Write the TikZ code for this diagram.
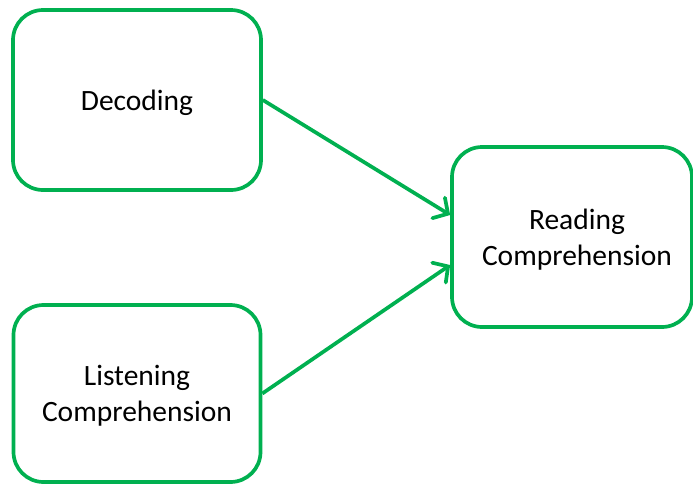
\documentclass[tikz,border=0pt]{standalone}
\usepackage{fontspec}
\setmainfont{Carlito}
\usetikzlibrary{arrows.meta}
\definecolor{boxgreen}{HTML}{00B050}
\begin{document}
\begin{tikzpicture}[x=1pt,y=-1pt,
  box/.style={draw=boxgreen, line width=3.7pt, rounded corners=30pt, inner sep=0pt},
  caption/.style={align=center, inner sep=0pt, font=\fontsize{29.5}{36}\selectfont},
  link/.style={draw=boxgreen, line width=3.7pt,
    -{Straight Barb[length=11pt,width=24pt,line cap=round]}}]
  \useasboundingbox (0,0) rectangle (693,485);
  % boxes
  \node[box, minimum width=248pt, minimum height=180pt] (dec) at (137,100) {};
  \node[box, minimum width=247pt, minimum height=177pt] (lis) at (137,393.5) {};
  \node[box, minimum width=240pt, minimum height=180pt] (read) at (572,237) {};
  % captions
  \node[caption] (decT) at ([yshift=-3pt]dec.center) {Decoding};
  \node[caption] (lisT) at ([yshift=-2pt]lis.center) {Listening\\Comprehension};
  \node[caption] (readT) at ([xshift=5pt,yshift=-3pt]read.center) {Reading\\Comprehension};
  % connectors
  \draw[link] (dec.east) -- ([yshift=22pt]read.west);
  \draw[link] (lis.east) -- ([yshift=-28pt]read.west);
\end{tikzpicture}
\end{document}
